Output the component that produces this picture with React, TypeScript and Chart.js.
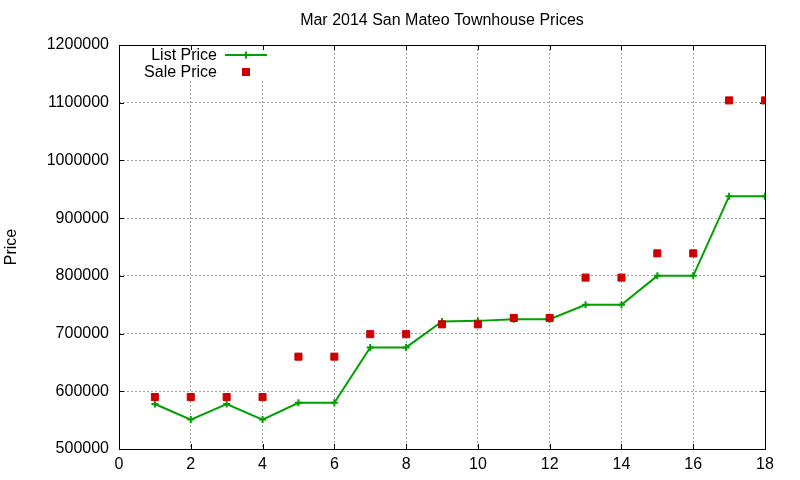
import { useEffect, useRef } from "react";
import { Chart, registerables, Plugin } from "chart.js";

Chart.register(...registerables);

const TITLE = "Mar 2014 San Mateo Townhouse Prices";
const Y_LABEL = "Price";

const units = [1, 2, 3, 4, 5, 6, 7, 8, 9, 10, 11, 12, 13, 14, 15, 16, 17, 18];
const listPrices = [
  578000, 551000, 578000, 551000, 580000, 580000, 676000, 676000, 721000,
  722000, 725000, 725000, 750000, 750000, 800000, 800000, 938000, 938000,
];
const salePrices = [
  590000, 590000, 590000, 590000, 660000, 660000, 699000, 699000, 716000,
  716000, 727000, 727000, 797000, 797000, 839000, 839000, 1104000, 1104000,
];

const FONT = "'Liberation Sans', Arial, sans-serif";
const GREEN = "#00a000";
const RED = "#cc0000";

// gnuplot-ish frame: box border, inward ticks, opaque key, title, y label
const gnuplotDecor: Plugin = {
  id: "gnuplotDecor",
  beforeDatasetsDraw(chart) {
    const { ctx, chartArea: a } = chart;
    const xs = chart.scales.x;
    const ys = chart.scales.y;
    ctx.save();
    // opaque key background
    ctx.fillStyle = "#ffffff";
    ctx.fillRect(138, a.top + 1, 136, 34);
    ctx.strokeStyle = "#000000";
    ctx.lineWidth = 1;
    ctx.beginPath();
    ys.ticks.forEach((t) => {
      const y = Math.round(ys.getPixelForValue(t.value)) + 0.5;
      ctx.moveTo(a.left, y);
      ctx.lineTo(a.left + 5, y);
      ctx.moveTo(a.right, y);
      ctx.lineTo(a.right - 5, y);
    });
    xs.ticks.forEach((t) => {
      const x = Math.round(xs.getPixelForValue(t.value)) + 0.5;
      ctx.moveTo(x, a.bottom);
      ctx.lineTo(x, a.bottom - 5);
      ctx.moveTo(x, a.top);
      ctx.lineTo(x, a.top + 5);
    });
    ctx.stroke();
    ctx.strokeRect(
      Math.round(a.left) + 0.5,
      Math.round(a.top) + 0.5,
      Math.round(a.right - a.left),
      Math.round(a.bottom - a.top)
    );
    ctx.restore();
  },
  afterDraw(chart) {
    const { ctx, chartArea: a } = chart;
    ctx.save();
    ctx.fillStyle = "#000000";
    ctx.font = `16px ${FONT}`;
    ctx.textAlign = "center";
    ctx.textBaseline = "middle";
    ctx.fillText(TITLE, (a.left + a.right) / 2, 21);

    ctx.save();
    ctx.translate(12, (a.top + a.bottom) / 2);
    ctx.rotate(-Math.PI / 2);
    ctx.fillText(Y_LABEL, 0, 0);
    ctx.restore();

    // key
    const ds = chart.data.datasets;
    ctx.textAlign = "right";
    ctx.fillText(String(ds[0].label), 217, 56);
    ctx.fillText(String(ds[1].label), 217, 72.5);

    ctx.strokeStyle = GREEN;
    ctx.lineWidth = 2;
    ctx.beginPath();
    ctx.moveTo(225, 55);
    ctx.lineTo(267, 55);
    ctx.moveTo(246, 51.5);
    ctx.lineTo(246, 58.5);
    ctx.stroke();

    ctx.fillStyle = RED;
    ctx.fillRect(242, 68, 8, 8);
    ctx.restore();
  },
};

export default function App() {
  const canvasRef = useRef<HTMLCanvasElement>(null);

  useEffect(() => {
    if (!canvasRef.current) return;
    const chart = new Chart(canvasRef.current, {
      type: "scatter",
      data: {
        datasets: [
          {
            label: "List Price",
            data: units.map((u, i) => ({ x: u, y: listPrices[i] })),
            showLine: true,
            borderColor: GREEN,
            backgroundColor: GREEN,
            borderWidth: 2,
            pointStyle: "cross",
            pointRadius: 3.5,
            pointBorderWidth: 2,
            tension: 0,
            order: 1,
          },
          {
            label: "Sale Price",
            data: units.map((u, i) => ({ x: u, y: salePrices[i] })),
            showLine: false,
            borderColor: RED,
            backgroundColor: RED,
            pointStyle: "rect",
            pointRadius: 5,
            pointBorderWidth: 1,
            order: 0,
          },
        ],
      },
      options: {
        responsive: false,
        animation: false,
        layout: { padding: { top: 45, right: 35, left: 0, bottom: 0 } },
        plugins: {
          legend: { display: false },
          title: { display: false },
          tooltip: { enabled: false },
        },
        scales: {
          x: {
            type: "linear",
            min: 0,
            max: 18,
            afterFit: (scale) => {
              scale.height = 31;
            },
            ticks: {
              stepSize: 2,
              color: "#000000",
              padding: 6,
              font: { family: FONT, size: 16 },
              callback: (v) => String(v),
            },
            grid: { color: "#a0a0a0", lineWidth: 1, drawTicks: false },
            border: { display: false, dash: [2, 2] },
          },
          y: {
            min: 500000,
            max: 1200000,
            afterFit: (scale) => {
              scale.width = 119;
            },
            ticks: {
              stepSize: 100000,
              color: "#000000",
              padding: 10,
              font: { family: FONT, size: 16 },
              callback: (v) => String(v),
            },
            grid: { color: "#a0a0a0", lineWidth: 1, drawTicks: false },
            border: { display: false, dash: [2, 2] },
          },
        },
      },
      plugins: [gnuplotDecor],
    });
    return () => chart.destroy();
  }, []);

  return (
    <div
      style={{
        position: "fixed",
        left: 0,
        top: 0,
        width: 800,
        height: 480,
        background: "#ffffff",
      }}
    >
      <canvas ref={canvasRef} width={800} height={480} />
    </div>
  );
}
